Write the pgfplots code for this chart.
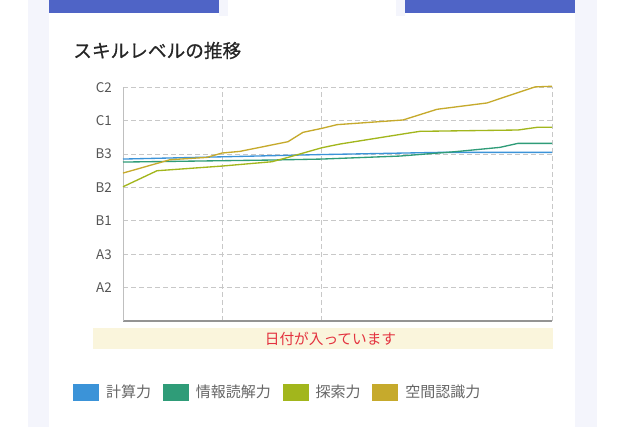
\documentclass[border=0pt]{standalone}
\usepackage{fontspec}
\setmainfont{Noto Sans CJK JP}
\newfontfamily\titlefont{Noto Sans CJK JP}[FakeBold=0.6]
\usepackage{pgfplots}
\pgfplotsset{compat=1.18}
\definecolor{lav}{HTML}{F4F5FC}
\definecolor{topblue}{HTML}{4F64C6}
\definecolor{c1}{HTML}{3B93D8}
\definecolor{c2}{HTML}{2F9C78}
\definecolor{c3}{HTML}{A2B61C}
\definecolor{c4}{HTML}{C6AA2C}
\definecolor{gridc}{HTML}{C8C8C8}
\definecolor{barfill}{HTML}{FAF5DC}
\definecolor{datered}{HTML}{E3323F}
\definecolor{ticktext}{HTML}{555555}
\definecolor{legtext}{HTML}{666666}
\begin{document}
\begin{tikzpicture}
\begin{scope}[x=0.75pt,y=-0.75pt]
\fill[white] (0,0) rectangle (640,427);
\fill[lav] (28,0) rectangle (49,427);
\fill[lav] (575,0) rectangle (597,427);
\fill[lav] (219,0) rectangle (228,16);
\fill[lav] (396,0) rectangle (405,16);
\fill[topblue] (49,0) rectangle (219,13);
\fill[topblue] (405,0) rectangle (575,13);
\node[anchor=west,inner sep=0pt,text=black!85,font=\fontsize{14}{16}\selectfont\titlefont] at (73,50.5) {スキルレベルの推移};
\fill[barfill] (93,328) rectangle (553,349);
\node[inner sep=0pt,text=datered,font=\fontsize{11}{13}\selectfont] at (330.5,338.5) {日付が入っています};
\end{scope}
\begin{axis}[
  at={(92.25pt,-240.75pt)}, anchor=south west,
  scale only axis, width=321.75pt, height=175.3pt,
  xmin=0, xmax=429, ymin=0, ymax=7,
  axis x line*=bottom, axis y line*=left,
  x axis line style={-, draw=black!42, line width=1.5pt},
  y axis line style={-, draw=black!25, line width=0.75pt},
  xtick={0,99,198,429}, xticklabels={},
  ytick={1,2,3,4,5,6,7},
  yticklabels={A2,A3,B1,B2,B3,C1,C2},
  major tick length=0pt,
  grid=major,
  major grid style={draw=gridc, line width=0.75pt, dash pattern=on 3.5pt off 2.5pt},
  yticklabel style={anchor=east, inner sep=0pt, xshift=-8.25pt, text=ticktext, font=\fontsize{10}{12}\selectfont},
  clip=false,
  legend columns=4,
  legend style={at={(-0.117,-0.304)}, anchor=west, draw=none, fill=none, inner sep=0pt,
    font=\fontsize{11.25}{13}\selectfont, text=legtext,
    nodes={inner sep=0pt},
    /tikz/every odd column/.append style={column sep=5.25pt},
    /tikz/every even column/.append style={column sep=8.8pt}},
  legend image code/.code={\fill[#1,draw=none] (0pt,-6.4pt) rectangle (19.5pt,6.4pt);},
  every axis plot/.append style={line width=1pt, mark=none},
]
\addplot[color=c1] coordinates {(0,4.85) (199,4.985) (317,5.05) (429,5.05)};
\addlegendentry{計算力}
\addplot[color=c2] coordinates {(0,4.76) (147,4.82) (199,4.85) (277,4.94) (332,5.07) (377,5.20) (395,5.32) (429,5.32)};
\addlegendentry{情報読解力}
\addplot[color=c3] coordinates {(0,4.02) (34,4.50) (99,4.64) (149,4.77) (165,4.90) (199,5.19) (217,5.30) (284,5.62) (297,5.68) (395,5.72) (414,5.80) (429,5.80)};
\addlegendentry{探索力}
\addplot[color=c4] coordinates {(0,4.43) (47,4.83) (84,4.90) (99,5.03) (117,5.08) (165,5.37) (180,5.65) (199,5.77) (214,5.88) (280,6.02) (314,6.34) (364,6.53) (412,7.01) (429,7.03)};
\addlegendentry{空間認識力}
\end{axis}
\end{tikzpicture}
\end{document}
